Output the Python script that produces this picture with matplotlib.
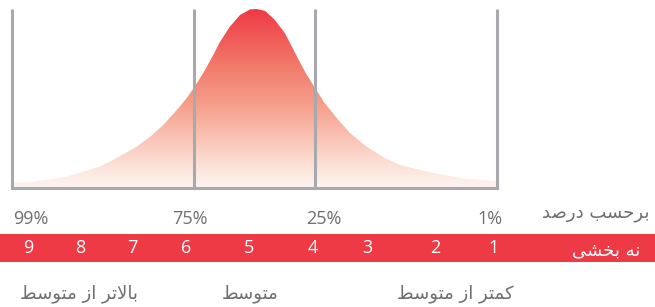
import numpy as np
import matplotlib
matplotlib.use("Agg")
import matplotlib.pyplot as plt
from matplotlib.colors import LinearSegmentedColormap

# ---------------- data ----------------
curve_x = [0, 4.3, 11.3, 18.1, 21.6, 25.7, 28.5, 31.2, 34.0, 36.0, 37.6, 39.4, 41.5,
           42.9, 44.9, 47.0, 49.1, 50.5, 52.2, 54.2, 56.3, 58.4, 60.4, 62.3, 64.5,
           67.3, 69.7, 73.2, 76.5, 80.0, 86.8, 93.8, 100]
curve_h = [2.8, 3.5, 6.3, 11.9, 16.8, 23.1, 28.7, 35.2, 43.6, 50.1, 56.3, 64.1, 74.3,
           81.7, 90.1, 96.6, 99.8, 100, 98.9, 93.9, 86.4, 75.3, 65.0, 56.6, 47.3,
           38.0, 30.7, 22.9, 17.3, 12.8, 8.4, 5.0, 3.9]
divider_x = [0, 37.5, 62.5, 100]
percent_labels = ["99%", "75%", "25%", "1%"]
stanine_labels = ["9", "8", "7", "6", "5", "4", "3", "2", "1"]
percent_title = "برحسب درصد"
stanine_title = "نه بخشی"
group_labels = ["بالاتر از متوسط", "متوسط", "کمتر از متوسط"]

# ---------------- minimal Arabic/Persian shaping ----------------
FORMS = {  # isolated, final, initial, medial
    'ا': ('\uFE8D', '\uFE8E', None, None),
    'ب': ('\uFE8F', '\uFE90', '\uFE91', '\uFE92'),
    'ت': ('\uFE95', '\uFE96', '\uFE97', '\uFE98'),
    'ح': ('\uFEA1', '\uFEA2', '\uFEA3', '\uFEA4'),
    'خ': ('\uFEA5', '\uFEA6', '\uFEA7', '\uFEA8'),
    'د': ('\uFEA9', '\uFEAA', None, None),
    'ر': ('\uFEAD', '\uFEAE', None, None),
    'ز': ('\uFEAF', '\uFEB0', None, None),
    'س': ('\uFEB1', '\uFEB2', '\uFEB3', '\uFEB4'),
    'ش': ('\uFEB5', '\uFEB6', '\uFEB7', '\uFEB8'),
    'ص': ('\uFEB9', '\uFEBA', '\uFEBB', '\uFEBC'),
    'ط': ('\uFEC1', '\uFEC2', '\uFEC3', '\uFEC4'),
    'ل': ('\uFEDD', '\uFEDE', '\uFEDF', '\uFEE0'),
    'م': ('\uFEE1', '\uFEE2', '\uFEE3', '\uFEE4'),
    'ن': ('\uFEE5', '\uFEE6', '\uFEE7', '\uFEE8'),
    'ه': ('\uFEE9', '\uFEEA', '\uFEEB', '\uFEEC'),
    'و': ('\uFEED', '\uFEEE', None, None),
    'ک': ('\uFB8E', '\uFB8F', '\uFB90', '\uFB91'),
    'ی': ('\uFBFC', '\uFBFD', '\uFBFE', '\uFBFF'),
}


def dual(c):
    return c in FORMS and FORMS[c][2] is not None


def shape(text):
    out = []
    i = 0
    n = len(text)
    while i < n:
        c = text[i]
        if c not in FORMS:
            out.append(c)
            i += 1
            continue
        prev = text[i - 1] if i > 0 else ''
        joins_prev = dual(prev)
        if c == 'ل' and i + 1 < n and text[i + 1] == 'ا':
            out.append('\uFEFC' if joins_prev else '\uFEFB')
            i += 2
            continue
        nxt = text[i + 1] if i + 1 < n else ''
        joins_next = dual(c) and nxt in FORMS
        iso, fin, ini, med = FORMS[c]
        if joins_prev and joins_next:
            g = med
        elif joins_next:
            g = ini
        elif joins_prev:
            g = fin
        else:
            g = iso
        out.append(g)
        i += 1
    return ''.join(out)[::-1]


# ---------------- figure ----------------
fig = plt.figure(figsize=(6.55, 3.07), dpi=100)
ax = fig.add_axes([0, 0, 1, 1])
ax.set_xlim(-12 / 4.85, 643 / 4.85)
ax.set_ylim(-119 / 1.79, 188 / 1.79)
ax.axis('off')

red = '#EE3A45'
gray_line = '#A8A9AD'
gray_text = '#6E6E70'

cmap = LinearSegmentedColormap.from_list(
    'bell', [(0.0, '#FEF6F3'), (0.2, '#FBD3C6'), (0.45, '#F6A18E'),
             (0.7, '#F27767'), (1.0, '#EE3A45')])

poly = ax.fill(list(curve_x) + [100, 0], list(curve_h) + [0, 0],
               facecolor='none', edgecolor='none')[0]
grad = np.linspace(0, 1, 256).reshape(-1, 1)
im = ax.imshow(grad, extent=[0, 100, 0, 100], origin='lower', cmap=cmap,
               aspect='auto', zorder=1, interpolation='bilinear')
im.set_clip_path(poly)

for xv in divider_x:
    ax.plot([xv, xv], [0, 100], color=gray_line, lw=2.2, zorder=3,
            solid_capstyle='butt', clip_on=False)
ax.plot([0, 100], [0, 0], color=gray_line, lw=2.2, zorder=3,
        solid_capstyle='projecting', clip_on=False)

# percentile labels
latin = ['Open Sans', 'DejaVu Sans']
pct_pos = [(0.2, 'left'), (36.7, 'center'), (64.3, 'center'), (98.6, 'center')]
for lab, (xv, ha) in zip(percent_labels, pct_pos):
    ax.text(xv, -20.1, lab, ha=ha, va='baseline', fontsize=13,
            color=gray_text, family=latin)
ax.text(131.5, -16.2, shape(percent_title), ha='right', va='baseline',
        fontsize=13, color=gray_text, family=['DejaVu Sans'])

# stanine band
ax.axhspan(-41.34, -25.70, color=red, zorder=2, lw=0)
stan_x = [3.3, 14.0, 24.9, 35.9, 48.9, 62.1, 73.2, 87.2, 99.2]
for lab, xv in zip(stanine_labels, stan_x):
    ax.text(xv, -36.3, lab, ha='center', va='baseline', fontsize=13,
            color='white', family=latin, zorder=4)
ax.text(129.5, -37.4, shape(stanine_title), ha='right', va='baseline',
        fontsize=13, color='white', family=['DejaVu Sans'], zorder=4)

# group labels
grp_x = [13.8, 49.1, 91.5]
for lab, xv in zip(group_labels, grp_x):
    ax.text(xv, -61.5, shape(lab), ha='center', va='baseline', fontsize=13,
            color=gray_text, family=['DejaVu Sans'])

fig.savefig('out.png', dpi=100)
